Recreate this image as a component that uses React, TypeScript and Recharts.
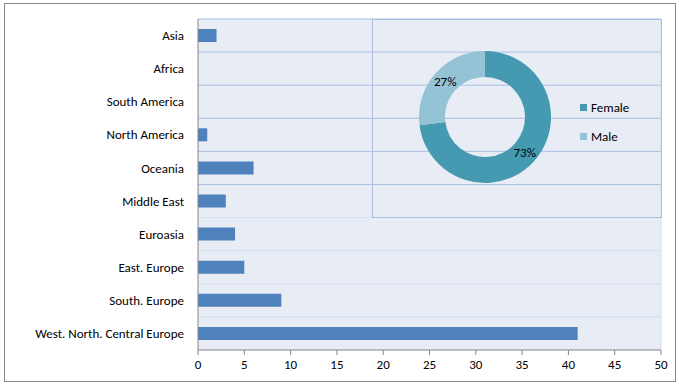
import { BarChart, Bar, XAxis, YAxis, CartesianGrid, PieChart, Pie, Cell, Legend } from 'recharts';

const regions = [
    'Asia',
    'Africa',
    'South America',
    'North America',
    'Oceania',
    'Middle East',
    'Euroasia',
    'East. Europe',
    'South. Europe',
    'West. North. Central Europe',
];
const counts = [2, 0, 0, 1, 6, 3, 4, 5, 9, 41];
const xTicks = [0, 5, 10, 15, 20, 25, 30, 35, 40, 45, 50];

const genders = ['Female', 'Male'];
const genderShares = [73, 27];
const GENDER_COLORS = ['#4599B1', '#93C3D5'];

const FONT = 'Carlito, "Liberation Sans", Arial, sans-serif';
const GRID_BRIGHT = '#A9BFE6';
const GRID_LIGHT = '#D3DDEF';

const barData = regions.map((name, i) => ({ name, count: counts[i] }));
const pieData = genders.map((name, i) => ({ name, value: genderShares[i] }));

const RADIAN = Math.PI / 180;

function renderPieLabel(props: any) {
    const { cx, cy, midAngle, innerRadius, outerRadius, value } = props;
    const r = (innerRadius + outerRadius) / 2;
    const x = cx + r * Math.cos(-midAngle * RADIAN);
    const y = cy + r * Math.sin(-midAngle * RADIAN);
    return (
        <text x={x} y={y} textAnchor="middle" dominantBaseline="central" fontSize={13} fill="#000" fontFamily={FONT}>
            {value}%
        </text>
    );
}

function GenderLegend({ payload }: any) {
    return (
        <div style={{ fontFamily: FONT, fontSize: 13, color: '#000' }}>
            {(payload || []).map((p: any, i: number) => (
                <div key={p.value} style={{ display: 'flex', alignItems: 'center', height: 29 }}>
                    <span
                        style={{
                            display: 'inline-block',
                            width: 7,
                            height: 7,
                            background: GENDER_COLORS[i] || p.color,
                            marginRight: 4,
                        }}
                    />
                    {p.value}
                </div>
            ))}
        </div>
    );
}

export default function App() {
    return (
        <div style={{ position: 'absolute', left: 0, top: 0, width: 679, height: 386, background: '#fff' }}>
            <div
                style={{
                    position: 'absolute',
                    left: 4,
                    top: 3,
                    width: 672,
                    height: 379,
                    boxSizing: 'border-box',
                    border: '1px solid #868686',
                }}
            />
            <div style={{ position: 'absolute', left: 0, top: 0 }}>
                <BarChart
                    width={679}
                    height={386}
                    data={barData}
                    layout="vertical"
                    margin={{ top: 19, right: 18, bottom: 5, left: 0 }}
                >
                    <CartesianGrid
                        fill="#E8ECF5"
                        stroke={GRID_LIGHT}
                        horizontalCoordinatesGenerator={({ offset }: any) =>
                            regions.map((_, i) => offset.top + (offset.height * i) / regions.length)
                        }
                        verticalCoordinatesGenerator={({ offset }: any) => [offset.left + offset.width]}
                        horizontal={(props: any) => (
                            <line
                                key={props.key ?? props.index}
                                x1={props.x1}
                                x2={props.x2}
                                y1={props.y1}
                                y2={props.y2}
                                stroke={props.index < 6 ? GRID_BRIGHT : GRID_LIGHT}
                                strokeWidth={1}
                            />
                        )}
                    />
                    <XAxis
                        type="number"
                        domain={[0, 50]}
                        ticks={xTicks}
                        interval={0}
                        height={31}
                        stroke="#868686"
                        tickSize={5}
                        tickMargin={5}
                        tick={{ fill: '#000', fontSize: 13, fontFamily: FONT }}
                    />
                    <YAxis
                        type="category"
                        dataKey="name"
                        width={198}
                        stroke="#868686"
                        tickLine={false}
                        tickSize={5}
                        tickMargin={9}
                        interval={0}
                        tick={{ fill: '#000', fontSize: 13, fontFamily: FONT }}
                    />
                    <Bar dataKey="count" fill="#4F81BD" barSize={13} isAnimationActive={false} />
                </BarChart>
            </div>
            <div
                style={{
                    position: 'absolute',
                    left: 372,
                    top: 19,
                    width: 290,
                    height: 199,
                    boxSizing: 'border-box',
                    border: `1px solid ${GRID_BRIGHT}`,
                }}
            >
                <PieChart width={288} height={197} margin={{ top: 0, right: 0, bottom: 0, left: 0 }}>
                    <Pie
                        data={pieData}
                        dataKey="value"
                        nameKey="name"
                        cx={112}
                        cy={97}
                        innerRadius={40}
                        outerRadius={66}
                        startAngle={90}
                        endAngle={-270}
                        stroke="none"
                        label={renderPieLabel}
                        labelLine={false}
                        isAnimationActive={false}
                    >
                        {pieData.map((_, i) => (
                            <Cell key={i} fill={GENDER_COLORS[i]} />
                        ))}
                    </Pie>
                    <Legend
                        layout="vertical"
                        align="right"
                        verticalAlign="middle"
                        content={<GenderLegend />}
                        wrapperStyle={{ left: 207, top: 73, width: 80 }}
                    />
                </PieChart>
            </div>
        </div>
    );
}
